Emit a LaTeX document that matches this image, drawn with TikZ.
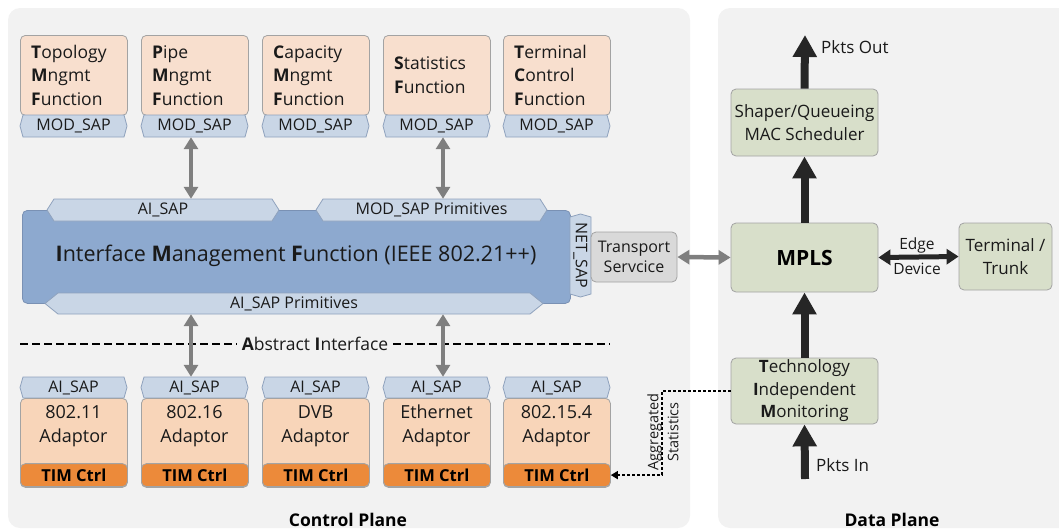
\documentclass[tikz,border=0pt]{standalone}
\usepackage{fontspec}
\setmainfont{Open Sans}
\usetikzlibrary{arrows.meta,calc}

\definecolor{panel}{HTML}{F2F2F2}
\definecolor{peachtop}{HTML}{F8DFCE}
\definecolor{peachad}{HTML}{F8D5B9}
\definecolor{timorange}{HTML}{EC8A3A}
\definecolor{tabfill}{HTML}{C9D6E6}
\definecolor{tabedge}{HTML}{8FA2BD}
\definecolor{imffill}{HTML}{8DA9CF}
\definecolor{imfedge}{HTML}{7A91B4}
\definecolor{green}{HTML}{D8DFCA}
\definecolor{tspfill}{HTML}{D9D9D9}
\definecolor{edge}{HTML}{A3A3A3}
\definecolor{arrgray}{HTML}{7F7F7F}
\definecolor{dark}{HTML}{262626}
\definecolor{txt}{HTML}{1A1A1A}

\newcommand\fs[2]{\fontsize{#1}{#2}\selectfont}

% horizontal service access point tab: name, x1, y1, x2, y2, tip depth, label
\newcommand\htab[7]{%
  \path[tabshape] ({#2+#6},#3) -- ({#4-#6},#3) -- (#4,{(#3+#5)/2})
    -- ({#4-#6},#5) -- ({#2+#6},#5) -- (#2,{(#3+#5)/2}) -- cycle;
  \node[tabtext, minimum width={(#4)-(#2)}, minimum height={(#5)-(#3)}]
    (#1) at ({(#2+#4)/2},{(#3+#5)/2}) {#7};}

% management function box with its MOD_SAP tab: name, left x, text
\newcommand\fnbox[3]{%
  \node[fnbody, anchor=north west] (#1) at (#2,35) {};
  \node[anchor=west, align=left, font=\fs{17.5}{23.5}] at ([xshift=11pt]#1.west) {#3};
  \htab{#1-sap}{#2}{115}{#2+107}{137}{3}{MOD\_SAP}}

% technology adaptor with AI_SAP tab and TIM Ctrl strip: name, left x, text
\newcommand\adbox[3]{%
  \htab{#1-sap}{#2}{377}{#2+107}{398}{3}{AI\_SAP}
  \node[adbody, anchor=north west] (#1) at (#2,398) {};
  \node[timbox, anchor=south west] (#1-tim) at (#2,487) {TIM Ctrl};
  \node[align=center, font=\fs{18}{23.5}] at ({#2+53.5},426) {#3};}

\begin{document}
\begin{tikzpicture}[x=1pt,y=-1pt,
  every node/.style={inner sep=0pt, text=txt},
  box/.style={draw=edge, line width=0.8pt, rounded corners=5pt},
  fnbody/.style={box, fill=peachtop, minimum width=107pt, minimum height=80pt},
  adbody/.style={box, fill=peachad, minimum width=107pt, minimum height=89pt},
  timbox/.style={box, fill=timorange, minimum width=107pt, minimum height=23pt,
    font=\fs{16.5}{20}\bfseries, text=black},
  tabshape/.style={fill=tabfill, draw=tabedge, line width=0.8pt},
  tabtext/.style={font=\fs{16}{18}},
  dpbox/.style={box, fill=green, minimum width=147pt, align=center, font=\fs{17}{22.5}},
  garrow/.style={draw=arrgray, line width=4.5pt,
    {Triangle[width=14pt,length=12pt]}-{Triangle[width=14pt,length=12pt]}},
  darrow/.style={draw=dark, line width=8pt, -{Triangle[width=23pt,length=22pt]}},
  edgearrow/.style={draw=dark, line width=5pt,
    {Triangle[width=15pt,length=12pt]}-{Triangle[width=15pt,length=12pt]}},
  dashline/.style={draw=black, line width=1.5pt, dash pattern=on 8pt off 4pt},
  dotline/.style={draw=black, line width=1.5pt, dash pattern=on 3pt off 2pt,
    -{Triangle[width=8pt,length=7pt]}},
  planelabel/.style={font=\fs{17.5}{20}\bfseries, text=black}]

\useasboundingbox (0,0) rectangle (1059,530);

% the two planes
\fill[panel, rounded corners=12pt] (8,8) rectangle (690,528);
\fill[panel, rounded corners=12pt] (718,8) rectangle (1075,528);

% ---- control plane: management functions
\fnbox{topo}{20}{\textbf{T}opology\\\textbf{M}ngmt\\\textbf{F}unction}
\fnbox{pipe}{141}{\textbf{P}ipe\\\textbf{M}ngmt\\\textbf{F}unction}
\fnbox{cap}{262}{\textbf{C}apacity\\\textbf{M}ngmt\\\textbf{F}unction}
\fnbox{stat}{383}{\textbf{S}tatistics\\\textbf{F}unction}
\fnbox{term}{503}{\textbf{T}erminal\\\textbf{C}ontrol\\\textbf{F}unction}

% ---- interface management function
\node[draw=imfedge, fill=imffill, line width=0.8pt, rounded corners=5pt,
  anchor=north west, minimum width=548pt, minimum height=93pt] (imf) at (22,210) {};
\node[font=\fs{21.5}{24}] (imftext) at (296,256)
  {\textbf{I}nterface \textbf{M}anagement \textbf{F}unction (IEEE 802.21++)};
\htab{imf-ai}{47}{199}{279}{221}{7}{AI\_SAP}
\htab{imf-mod}{316}{199}{547}{221}{7}{MOD\_SAP Primitives}
\htab{imf-aip}{45}{293}{543}{314}{13}{AI\_SAP Primitives}

% NET_SAP tab on the right side
\path[tabshape] (570,217) -- (580.5,214) -- (591,217) -- (591,294)
  -- (580.5,297) -- (570,294) -- cycle;
\node[tabtext, rotate=-90, minimum width=83pt, minimum height=21pt] (netsap) at (580.5,255.5) {NET\_SAP};

\node[box, fill=tspfill, minimum width=86pt, minimum height=50pt,
  align=center, font=\fs{16}{20}] (tsp) at (634,257) {Transport\\Servcice};

% ---- abstract interface line
\node[font=\fs{17.5}{20}, inner xsep=5pt] (absif) at (315,344) {\textbf{A}bstract \textbf{I}nterface};
\coordinate (absl) at (20,344);
\coordinate (absr) at (610,344);
\draw[dashline] (absl) -- (absif.west);
\draw[dashline] (absif.east) -- (absr);

% ---- technology adaptors
\adbox{a1}{20}{802.11\\Adaptor}
\adbox{a2}{141}{802.16\\Adaptor}
\adbox{a3}{262}{DVB\\Adaptor}
\adbox{a4}{383}{Ethernet\\Adaptor}
\adbox{a5}{503}{802.15.4\\Adaptor}

% primitive exchange between layers
\coordinate (colA) at (191,0);
\coordinate (colB) at (443,0);
\draw[garrow] (pipe-sap.south -| colA) -- (imf-ai.north -| colA);
\draw[garrow] (stat-sap.south -| colB) -- (imf-mod.north -| colB);
\draw[garrow] (imf-aip.south -| colA) -- (a2-sap.north -| colA);
\draw[garrow] (imf-aip.south -| colB) -- (a4-sap.north -| colB);

% ---- data plane
\node[dpbox, minimum height=67pt] (shaper) at (804.5,122.5) {Shaper/Queueing\\MAC Scheduler};
\node[dpbox, minimum height=69pt, font=\fs{21}{24}\bfseries, text=black] (mpls) at (804.5,257.5) {MPLS};
\node[dpbox, minimum width=93pt, minimum height=67pt] (trunk) at (1005.5,256.5) {Terminal /\\Trunk};
\node[dpbox, minimum height=66pt] (tim) at (804.5,391)
  {\textbf{T}echnology\\\textbf{I}ndependent\\\textbf{M}onitoring};

\coordinate (pout) at (805,35);
\coordinate (pin) at (805,479);
\draw[darrow] (shaper.north) -- (pout);
\draw[darrow] (mpls.north) -- (shaper.south);
\draw[darrow] (tim.north) -- (mpls.south);
\draw[darrow] (pin) -- (tim.south);
\node[anchor=west, font=\fs{17}{20}] (poutlbl) at (821,47) {Pkts Out};
\node[anchor=west, font=\fs{17}{20}] (pinlbl) at (816,465) {Pkts In};

\draw[edgearrow] (mpls.east) -- (trunk.west);
\node[font=\fs{15.5}{18}] (edgelbl) at (917,245) {Edge};
\node[font=\fs{15.5}{18}] (devlbl) at (917,269) {Device};

\draw[garrow] (tsp.east) -- (mpls.west);

% aggregated statistics feedback to the adaptors
\coordinate (aggx) at (662,0);
\draw[dotline] (tim.west) -- (tim.west -| aggx) -- (aggx |- a5-tim.east) -- (a5-tim.east);
\node[rotate=90, align=center, font=\fs{14.5}{20}] (agg) at (663,432) {Aggregated\\Statistics};

% plane captions
\node[planelabel] (cplbl) at (348,520) {Control Plane};
\node[planelabel] (dplbl) at (892,520) {Data Plane};
\end{tikzpicture}
\end{document}
